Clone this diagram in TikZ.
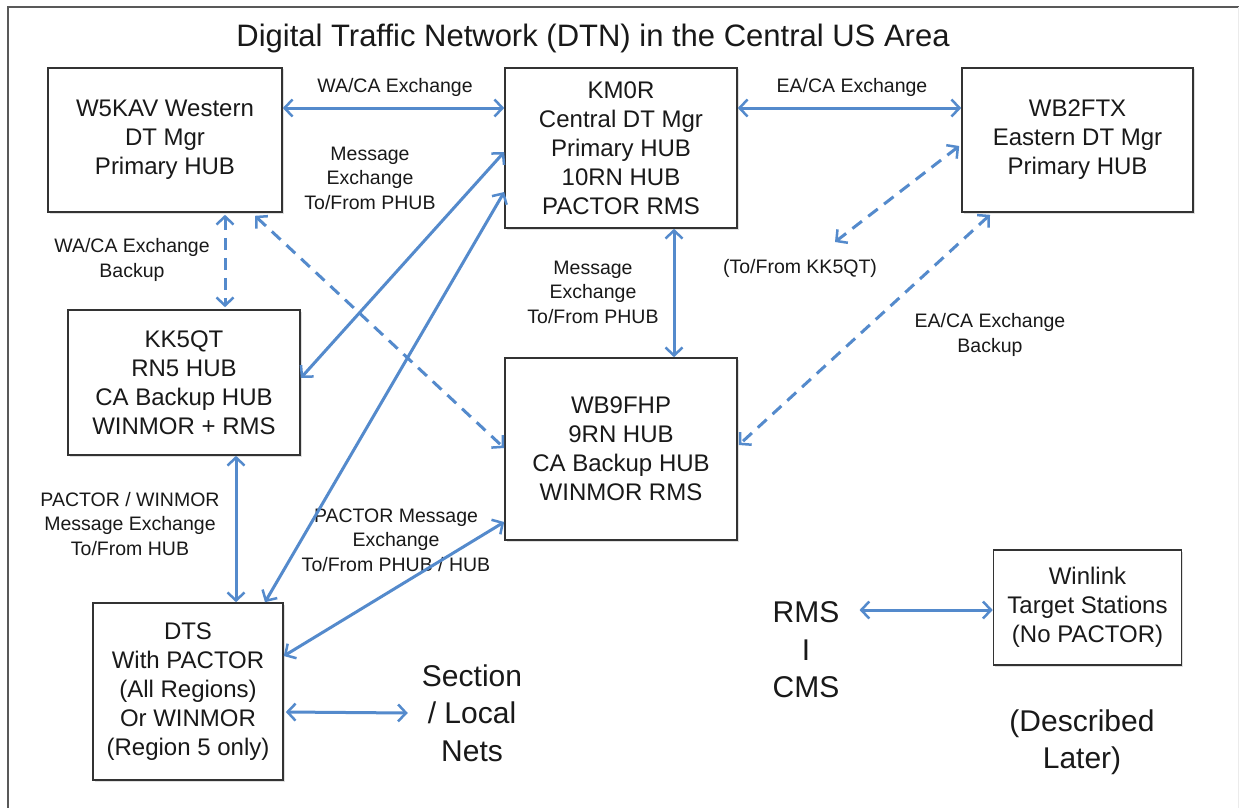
\documentclass[tikz,border=0pt]{standalone}
\usepackage{fontspec}
\setmainfont{Liberation Sans}
\usetikzlibrary{arrows.meta,shadows}
\definecolor{lblue}{RGB}{84,138,204}
\definecolor{txt}{RGB}{25,25,25}
\begin{document}
\begin{tikzpicture}[x=1pt,y=-1pt,
  box/.style={draw=black!80, line width=1.6pt, fill=white, align=center, inner sep=0pt,
    font=\fontsize{24}{29}\selectfont, text=txt,
    drop shadow={shadow xshift=1.5pt, shadow yshift=-1.5pt, opacity=0.25}},
  lbl/.style={align=center, inner sep=0pt, font=\fontsize{19.5}{24.5}\selectfont, text=txt},
  big/.style={align=center, inner sep=0pt, font=\fontsize{30}{37.5}\selectfont, text=txt},
  tip/.tip={Straight Barb[length=8pt,width=17pt,line width=2.5pt]},
  link/.style={draw=lblue, line width=3pt, tip-tip},
  dlink/.style={link, dash pattern=on 12pt off 8pt}]
\useasboundingbox (0,0) rectangle (1239,808);
\fill[white] (0,0) rectangle (1239,808);
\draw[black!65, line width=2pt] (8,810) -- (8,7) -- (1240,7);
\draw[black!8, line width=1pt] (1238.5,7) -- (1238.5,810);

\node[inner sep=0pt, font=\fontsize{31}{37}\selectfont, text=txt] (title) at (593,38)
  {Digital Traffic Network (DTN) in the Central US Area};

% boxes
\node[box, minimum width=234pt, minimum height=144pt] (w5kav) at (165,140)
  {W5KAV Western\\DT Mgr\\Primary HUB};
\node[box, minimum width=232pt, minimum height=160pt] (km0r) at (621,148)
  {KM0R\\Central DT Mgr\\Primary HUB\\10RN HUB\\PACTOR RMS};
\node[box, minimum width=231pt, minimum height=144pt] (wb2ftx) at (1077.5,140)
  {WB2FTX\\Eastern DT Mgr\\Primary HUB};
\node[box, minimum width=232pt, minimum height=145pt] (kk5qt) at (184,382.5)
  {KK5QT\\RN5 HUB\\CA Backup HUB\\WINMOR + RMS};
\node[box, minimum width=232pt, minimum height=182pt] (wb9fhp) at (621,449)
  {WB9FHP\\9RN HUB\\CA Backup HUB\\WINMOR RMS};
\node[box, minimum width=190pt, minimum height=177pt] (dts) at (188,691.5)
  {DTS\\With PACTOR\\(All Regions)\\Or WINMOR\\(Region 5 only)};
\node[box, minimum width=188pt, minimum height=115pt] (winlink) at (1087.5,607.5)
  {Winlink\\Target Stations\\(No PACTOR)};

% free texts
\node[big, inner xsep=14pt] (sec) at (472,713) {Section\\/ Local\\Nets};
\node[big, inner xsep=20pt] (rms) at (806,650) {RMS\\I\\CMS};
\node[big] (later) at (1082,742) {(Described\\Later)};
\coordinate (kk5ref) at (835,242);

% labels
\node[lbl] (l1) at (395,87) {WA/CA Exchange};
\node[lbl] (l2) at (852,87) {EA/CA Exchange};
\node[lbl] (l3) at (370,178) {Message\\Exchange\\To/From PHUB};
\node[lbl] (l4) at (593,292) {Message\\Exchange\\To/From PHUB};
\node[lbl] (l5) at (132,260) {WA/CA Exchange\\Backup};
\node[lbl] (l6) at (800,268) {(To/From KK5QT)};
\node[lbl] (l7) at (990,335) {EA/CA Exchange\\Backup};
\node[lbl] (l8) at (130,524) {PACTOR / WINMOR\\Message Exchange\\To/From HUB};
\node[lbl] (l9) at (396,540) {PACTOR Message\\Exchange\\To/From PHUB / HUB};

% connectors
\draw[link] ([yshift=32pt]w5kav.east) -- ([yshift=40pt]km0r.west);
\draw[link] ([yshift=40pt]km0r.east) -- ([yshift=32pt]wb2ftx.west);
\draw[link] ([xshift=53pt]km0r.south) -- ([xshift=53pt]wb9fhp.north);
\draw[dlink] ([xshift=60pt,yshift=-2pt]w5kav.south) -- ([xshift=41pt,yshift=2pt]kk5qt.north);
\draw[dlink] ([xshift=90pt,yshift=-3pt]w5kav.south) -- ([yshift=1pt]wb9fhp.west);
\draw[link] ([yshift=-4pt]km0r.west) -- ([yshift=4.5pt]kk5qt.east);
\draw[link] ([yshift=-44pt]km0r.west) -- ([xshift=77pt]dts.north);
\draw[link] ([xshift=52pt]kk5qt.south) -- ([xshift=48pt]dts.north);
\draw[link] ([yshift=-73pt]wb9fhp.west) -- ([yshift=35.5pt]dts.east);
\draw[dlink] ([xshift=-2pt,yshift=-6pt]wb2ftx.west) -- (kk5ref);
\draw[dlink] ([xshift=-87.5pt,yshift=-2pt]wb2ftx.south) -- ([xshift=1pt,yshift=4pt]wb9fhp.east);
\draw[link] ([xshift=2pt,yshift=-20.5pt]dts.east) -- (sec.west);
\draw[link] ([yshift=40pt]rms.east) -- ([yshift=-2.5pt]winlink.west);
\end{tikzpicture}
\end{document}
